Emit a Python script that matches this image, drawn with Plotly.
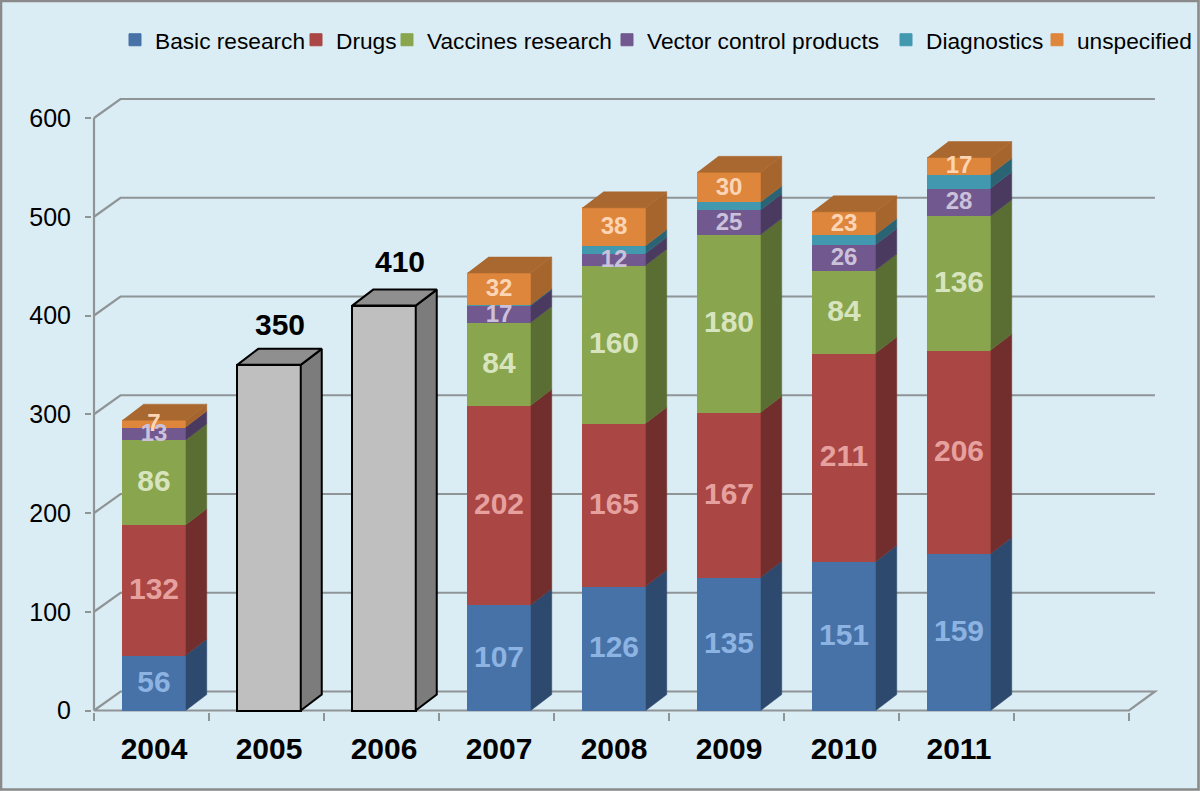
import plotly.graph_objects as go

years = ['2004', '2005', '2006', '2007', '2008', '2009', '2010', '2011']

basic = [56, None, None, 107, 126, 135, 151, 159]
drugs = [132, None, None, 202, 165, 167, 211, 206]
vaccines = [86, None, None, 84, 160, 180, 84, 136]
vector = [13, None, None, 17, 12, 25, 26, 28]
diagnostics = [None, None, None, 1, 8, 8, 10, 14]
unspecified = [7, None, None, 32, 38, 30, 23, 17]
totals_only = [None, 350, 410, None, None, None, None, None]

y_ticks = [0, 100, 200, 300, 400, 500, 600]

series = [
    ('Basic research', basic, '#4672A7', '#2D4A6E', '#8DB3E2', 30, 133),
    ('Drugs', drugs, '#AA4643', '#712E2C', '#E6A19F', 30, 314),
    ('Vaccines research', vaccines, '#89A54E', '#5A6E33', '#D7E4BD', 30, 405),
    ('Vector control products', vector, '#71588F', '#4A3A5F', '#CCC1DA', 24, 625),
    ('Diagnostics', diagnostics, '#4198AF', '#2A6474', None, 24, 904),
    ('unspecified', unspecified, '#DF863D', '#A6652D', '#FCD5B5', 24, 1055),
]

# pixel layout of the plot box
W, H = 1200, 791
left, right = 92, 1160
top, bottom = 90, 712
px_per_cat = 115
px_per_unit = 0.9875
zero_px = 710.5
first_cat_px = 154

x_range = [(left - first_cat_px) / px_per_cat, (right - first_cat_px) / px_per_cat]
y_range = [(zero_px - bottom) / px_per_unit, (zero_px - top) / px_per_unit]

bar_w = 63.5 / px_per_cat
# depth of bars and of the walls, in data units
bar_dx, bar_dy = 21 / px_per_cat, 16 / px_per_unit
wall_dx, wall_dy = 26.5 / px_per_cat, 19 / px_per_unit

axis_left = (94 - first_cat_px) / px_per_cat
axis_right = axis_left + 9
grid_color = '#8F9497'

fig = go.Figure()


def face(xs, ys, color, line_color=None):
    fig.add_trace(go.Scatter(x=xs, y=ys, mode='lines', fill='toself', fillcolor=color,
                             line=dict(color=line_color or color, width=2 if line_color else 0.5),
                             hoverinfo='skip', showlegend=False))


# front faces
for n, (name, vals, col, side, txt, size, lx) in enumerate(series):
    legend_id = 'legend' if n == 0 else 'legend%d' % (n + 1)
    fig.add_trace(go.Bar(x=list(range(8)), y=vals, width=bar_w, name=name, legend=legend_id,
                         marker=dict(color=col, line=dict(color=col, width=1))))
fig.add_trace(go.Bar(x=list(range(8)), y=totals_only, width=bar_w, showlegend=False,
                     marker=dict(color='#BFBFBF', line=dict(color='black', width=2))))

# side and top faces
stack_top = [0] * 8
for name, vals, col, side, txt, size, lx in series:
    for i, v in enumerate(vals):
        if not v:
            continue
        a, b = stack_top[i], stack_top[i] + v
        x1 = i + bar_w / 2
        face([x1, x1 + bar_dx, x1 + bar_dx, x1], [a, a + bar_dy, b + bar_dy, b], side)
        stack_top[i] = b

for i in range(8):
    if totals_only[i]:
        continue
    x0, x1 = i - bar_w / 2, i + bar_w / 2
    t = stack_top[i]
    face([x0, x1, x1 + bar_dx, x0 + bar_dx], [t, t, t + bar_dy, t + bar_dy], '#A9682F')

for i, v in enumerate(totals_only):
    if not v:
        continue
    x0, x1 = i - bar_w / 2, i + bar_w / 2
    face([x1, x1 + bar_dx, x1 + bar_dx, x1, x1], [0, bar_dy, v + bar_dy, v, 0], '#7C7C7C', 'black')
    face([x0, x1, x1 + bar_dx, x0 + bar_dx, x0], [v, v, v + bar_dy, v + bar_dy, v], '#8F8F8F', 'black')

# value labels
stack_top = [0] * 8
for name, vals, col, side, txt, size, lx in series:
    xs, ys, labels = [], [], []
    for i, v in enumerate(vals):
        if not v:
            continue
        xs.append(i)
        ys.append(stack_top[i] + v / 2 - 1.5 / px_per_unit)
        labels.append(str(v))
        stack_top[i] += v
    if txt:
        fig.add_trace(go.Scatter(x=xs, y=ys, text=labels, mode='text', showlegend=False,
                                 textposition='middle center', cliponaxis=False, hoverinfo='skip',
                                 textfont=dict(family='Liberation Sans', size=size, color=txt,
                                               weight='bold')))

# the two grey bars carry their label above the top face, each nudged a little
gray_idx = [i for i, v in enumerate(totals_only) if v]
label_nudge_x = [11, 16]
label_nudge_y = [6, 10]
gray_x = [i + nx / px_per_cat for i, nx in zip(gray_idx, label_nudge_x)]
gray_y = [totals_only[i] + bar_dy + ny / px_per_unit for i, ny in zip(gray_idx, label_nudge_y)]
fig.add_trace(go.Scatter(x=gray_x, y=gray_y, text=[str(totals_only[i]) for i in gray_idx], mode='text',
                         textposition='top center', showlegend=False, cliponaxis=False,
                         textfont=dict(family='Liberation Sans', size=30, color='black', weight='bold')))

# walls and floor, under the bars
shapes = []
for t in y_ticks:
    path = 'M %f,%f L %f,%f L %f,%f' % (axis_left, t, axis_left + wall_dx, t + wall_dy,
                                        axis_right + wall_dx - 0.005, t + wall_dy)
    if t == 0:
        path += ' L %f,%f L %f,%f' % (axis_right, 0, axis_left, 0)
    shapes.append(dict(type='path', path=path, xref='x', yref='y', layer='below',
                       line=dict(color=grid_color, width=2.2)))
shapes.append(dict(type='line', xref='x', yref='y', x0=axis_left, x1=axis_left, y0=0, y1=600,
                   layer='below', line=dict(color=grid_color, width=2.2)))

# outer frame
shapes.append(dict(type='rect', xref='paper', yref='paper',
                   x0=(1 - left) / (right - left), x1=(W - 1.5 - left) / (right - left),
                   y0=(bottom - (H - 1.5)) / (bottom - top), y1=(bottom - 1) / (bottom - top),
                   line=dict(color='#8A8A8A', width=2.6)))

layout_legends = {}
for n, (name, vals, col, side, txt, size, lx) in enumerate(series):
    key = 'legend' if n == 0 else 'legend%d' % (n + 1)
    layout_legends[key] = dict(x=(lx - 18) / W, y=1 - 40 / H, xref='container', yref='container',
                               xanchor='left', yanchor='middle', bgcolor='rgba(0,0,0,0)',
                               font=dict(family='Liberation Sans', size=22.7, color='black'))

fig.update_layout(
    width=W, height=H,
    barmode='stack',
    paper_bgcolor='#DBEDF4',
    plot_bgcolor='rgba(0,0,0,0)',
    margin=dict(l=left, r=W - right, t=top, b=H - bottom, autoexpand=False),
    xaxis=dict(range=x_range, tickmode='array', tickvals=list(range(8)), ticktext=years,
               showgrid=False, zeroline=False, showline=False, ticks='', ticklabelstandoff=16,
               tickfont=dict(family='Liberation Sans', size=30, color='black', weight='bold'),
               minor=dict(tickmode='array', tickvals=[axis_left + k for k in range(10)], ticks='outside',
                          ticklen=8, tickwidth=2, tickcolor=grid_color)),
    yaxis=dict(range=y_range, tickmode='array', tickvals=y_ticks, showgrid=False, zeroline=False,
               showline=False, ticks='outside', ticklen=6, tickwidth=2, tickcolor=grid_color,
               ticklabelstandoff=9,
               tickfont=dict(family='Liberation Sans', size=25, color='black')),
    shapes=shapes,
    **layout_legends,
)

# the page's default body margin would push the figure 8px in
fig.write_html('out.html', config=dict(displayModeBar=False),
               post_script="document.body.style.margin='0';document.body.style.overflow='hidden';")
